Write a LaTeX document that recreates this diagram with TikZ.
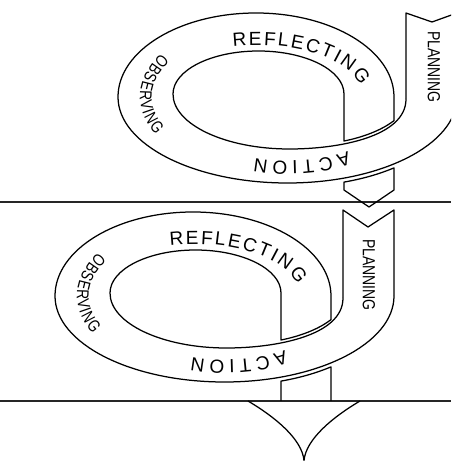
\documentclass[tikz,border=0pt]{standalone}
\usepackage{fontspec}
\setmainfont{Liberation Sans}
\newfontfamily\narrowfont[FakeStretch=0.8]{Liberation Sans}
\usetikzlibrary{decorations.text}

\tikzset{
  band/.style={draw=black, line width=1.25pt, line join=round},
  divider/.style={draw=black!85, line width=1.2pt},
  curved label/.style={decorate, decoration={text along path,
      text align=fit to path, text={#1}}},
  planlabel/.style={rotate=-90, inner sep=0pt, font=\narrowfont\fontsize{17.5}{20}\selectfont},
  % one turn of the spiral: the looping band and its three curved labels
  pics/ring/.style={code={
    \draw[band] (394,165)
      arc[start angle=0, end angle=-180, x radius=169.5, y radius=86]
      arc[start angle=180, end angle=0, x radius=138, y radius=84]
      -- (331,141.4) .. controls (318,131.2) and (298,124.3) .. (281,121)
      -- (281,168)
      arc[start angle=0, end angle=180, x radius=85.5, y radius=43]
      arc[start angle=180, end angle=270, x radius=116.5, y radius=55]
      .. controls (275,113) and (343,125) .. (343,163);
    {\fontsize{19}{22}\selectfont
    \path[curved label=REFLECTING] ([shift={(194,165)}]103:106 and 52)
      arc[start angle=103, end angle=13, x radius=106, y radius=52];
    \path[curved label=ACTION] ([shift={(226,165)}]302:111 and 64)
      arc[start angle=302, end angle=252, x radius=111, y radius=64];
    }
    {\narrowfont\fontsize{17}{20}\selectfont
    \path[curved label=OBSERVING] ([shift={(194,165)}]145:117 and 76)
      arc[start angle=145, end angle=210, x radius=117, y radius=76];
    }
  }}
}

\begin{document}
\begin{tikzpicture}[x=1pt, y=1pt]
  \useasboundingbox (0,0) rectangle (451,461);
  \clip (0,0) rectangle (451,461);

  % separators between the cycles
  \draw[divider] (0,259) -- (451,259);
  \draw[divider] (0,60) -- (451,60);

  % upper cycle
  \begin{scope}[shift={(63,199)}]
    \pic (upper) at (0,0) {ring};
    \draw[band] (343,163) -- (343,249) -- (369,240) -- (394,249) -- (394,165);
    \draw[band] (281,79.9) .. controls (298,82.9) and (314,87.1) .. (331,94.1)
      -- (331,72) -- (306,55) -- (281,72) -- cycle;
    \node[planlabel] (plan1) at (371,195) {PLANNING};
  \end{scope}

  % lower cycle
  \pic (lower) at (0,0) {ring};
  \draw[band] (343,163) -- (343,251) -- (368,234) -- (394,251) -- (394,165);
  \draw[band] (281,60) -- (281,79.9) .. controls (298,82.9) and (314,87.1) .. (331,94.1) -- (331,60);
  \draw[band] (248,60) .. controls (275,44) and (302,22) .. (304,0.5)
    .. controls (306,22) and (333,44) .. (360,60);
  \node[planlabel] (plan2) at (369,186) {PLANNING};
\end{tikzpicture}
\end{document}
